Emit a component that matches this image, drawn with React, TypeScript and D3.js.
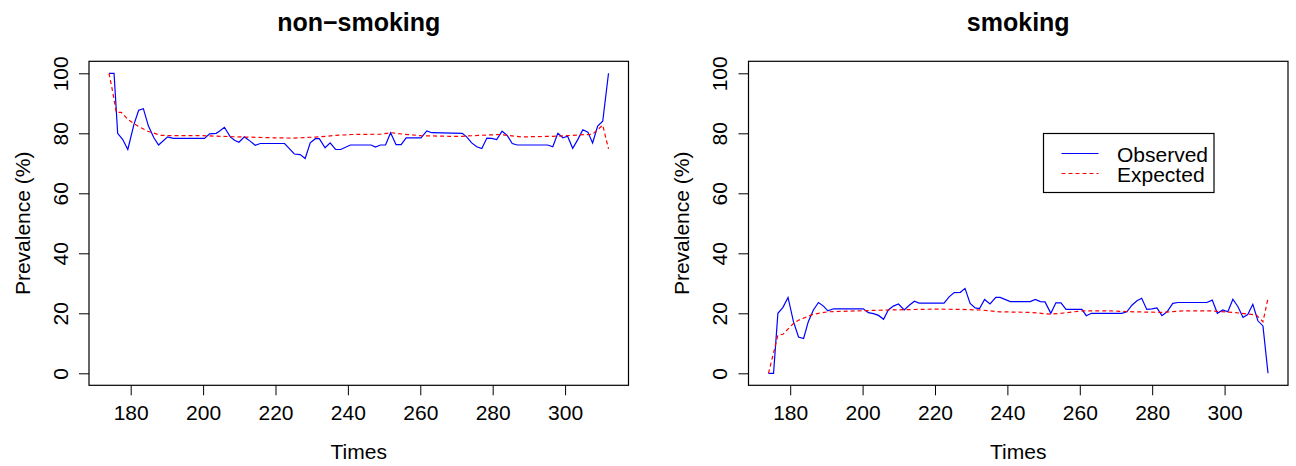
import { useEffect, useRef } from "react"
import * as d3 from "d3"

// [time, prevalence %] vertices
const nonSmokingObserved: [number, number][] = [
  [174, 100], [175.4, 100], [176.4, 80], [177.8, 77.9], [179.2, 74.6], [180.9, 83], [182.2, 87.7], [183.5, 88.2],
  [184.9, 82.4], [186.4, 78.5], [187.7, 76.1], [190.2, 78.8], [191.8, 78.3], [200.4, 78.3], [201.8, 79.8], [203.6, 80],
  [204.5, 80.7], [205.9, 82], [207.5, 78.8], [208.7, 77.7], [209.9, 77], [211.4, 78.8], [213, 77.4], [214.4, 76],
  [215.8, 76.6], [222.5, 76.6], [223.9, 74.8], [225.2, 73.1], [226.8, 72.9], [228.2, 71.6], [229.6, 76.8], [231, 78.2],
  [232.1, 78.2], [233.7, 75.2], [235.1, 76.8], [236.6, 74.6], [238, 74.6], [240.7, 76.1], [246.4, 76.1], [247.6, 75.4],
  [249, 76.1], [250.4, 76.1], [251.8, 80.2], [253.3, 76.2], [254.7, 76.2], [256.1, 78.5], [260.2, 78.5], [261.8, 80.8],
  [263.2, 80.2], [271.6, 80], [272.8, 78.8], [274.2, 76.8], [275.6, 75.5], [277, 74.9], [278.4, 78.4], [279.7, 78.3],
  [281.1, 77.9], [282.6, 80.7], [284, 79.3], [285.4, 76.6], [286.8, 76.1], [295.2, 76.1], [296.6, 75.5], [298, 80],
  [299.4, 78.5], [300.7, 79], [302.1, 75], [303.5, 77.9], [304.9, 81.2], [306.3, 80.4], [307.6, 76.8], [309, 82.4],
  [310.4, 84], [312, 100],
]

const nonSmokingExpected: [number, number][] = [
  [174, 100], [175, 94], [176, 87], [177.4, 87], [179.2, 84.6], [182, 82.4], [184.7, 80.7], [188.4, 79.3],
  [195, 79.2], [200, 79.2], [210, 78.8], [219.6, 78.5], [225, 78.4], [232, 78.8], [236.6, 79.3], [241, 79.6],
  [249, 79.7], [251.8, 80.2], [255.5, 79.7], [260.2, 79.2], [268, 79], [271.6, 79], [276, 79.3], [282, 79.6],
  [288, 78.8], [296.6, 79], [302, 79.3], [307.6, 79.7], [310.4, 82.7], [312, 74.8],
]

const smokingObserved: [number, number][] = [
  [174, 0], [175.4, 0], [176.6, 20], [178, 22], [179.4, 25.3], [180.9, 17.2], [182.3, 12.1], [183.7, 11.6],
  [185, 17.2], [186.4, 21.1], [187.8, 23.6], [189.2, 22.4], [190.4, 20.8], [192, 21.5], [200.2, 21.5], [201.6, 20.2],
  [203, 19.9], [204.4, 19.3], [205.8, 18], [207.1, 21.1], [208.5, 22.4], [209.9, 23.1], [211.5, 21.1], [212.9, 22.7],
  [214.3, 24], [215.6, 23.4], [222.5, 23.4], [223.9, 25.5], [225.3, 26.9], [227, 27], [228.3, 28.3], [229.7, 23.3],
  [231.1, 21.8], [232.3, 21.6], [233.7, 24.6], [235.2, 23.1], [236.8, 25.3], [238, 25.3], [240.8, 23.9], [246.3, 23.9],
  [247.7, 24.6], [249.1, 23.9], [250.4, 23.8], [252, 20], [253.4, 23.5], [254.8, 23.5], [256.2, 21.3], [260.6, 21.3],
  [261.8, 19.2], [263.2, 20], [271.6, 20], [273, 20.5], [274.4, 22.7], [275.8, 24.2], [277.1, 25], [278.5, 21.3],
  [279.9, 21.5], [281.3, 21.8], [282.7, 19.2], [284.1, 20.5], [285.7, 23.3], [287.1, 23.6], [295.1, 23.6], [296.6, 24.4],
  [298, 20], [299.5, 21.1], [300.9, 20.5], [302.3, 24.7], [303.7, 22.2], [305.1, 18.6], [306.4, 19.6], [307.8, 23],
  [309.2, 17.5], [310.6, 15.8], [312, 0],
]

const smokingExpected: [number, number][] = [
  [174, 0], [176.6, 12.7], [178, 13], [179.5, 14.9], [180.9, 16.6], [182.3, 17.7], [183.7, 18.4], [186.4, 19.7],
  [190.4, 20.5], [198, 20.8], [207, 21.1], [220, 21.4], [227, 21.3], [232.6, 21.1], [238, 20.5], [246.3, 20.3],
  [252, 19.7], [255.5, 20.1], [260.6, 20.8], [268.4, 20.8], [274.8, 20.5], [282.7, 20.3], [288.7, 20.8], [296.6, 20.8],
  [304, 20.1], [308.8, 19.4], [310.6, 17.2], [312, 25],
]

const xTicks = [180, 200, 220, 240, 260, 280, 300]
const yTicks = [0, 20, 40, 60, 80, 100]
const legendLabels = ["Observed", "Expected"]

const FONT = "'Liberation Sans', Arial, Helvetica, sans-serif"
const W = 1296, H = 466

const panels = [
  { title: "non\u2212smoking", obs: nonSmokingObserved, exp: nonSmokingExpected, left: 89, right: 628.5, legend: false },
  { title: "smoking", obs: smokingObserved, exp: smokingExpected, left: 748.5, right: 1288, legend: true },
]

export default function App() {
  const ref = useRef<SVGSVGElement>(null)

  useEffect(() => {
    document.body.style.margin = "0"
    const svg = d3.select(ref.current)
    svg.selectAll("*").remove()

    const top = 61.3, bottom = 385.3

    panels.forEach((p) => {
      // R style: 4% padding on each side of the data range
      const x = d3.scaleLinear().domain([168.48, 317.52]).range([p.left, p.right])
      const y = d3.scaleLinear().domain([-4, 104]).range([bottom, top])
      const g = svg.append("g")

      const line = d3.line<[number, number]>()
        .x((d) => x(d[0]))
        .y((d) => y(d[1]))

      g.append("path")
        .attr("d", line(p.obs))
        .attr("fill", "none")
        .attr("stroke", "#0000ff")
        .attr("stroke-width", 1.2)

      g.append("path")
        .attr("d", line(p.exp))
        .attr("fill", "none")
        .attr("stroke", "#ff0000")
        .attr("stroke-width", 1.2)
        .attr("stroke-dasharray", "4 3")

      const xAxis = d3.axisBottom(x).tickValues(xTicks).tickSize(10).tickFormat(d3.format("d"))
      g.append("g")
        .attr("transform", `translate(0, ${bottom})`)
        .call(xAxis)
        .call((a) => a.select(".domain").remove())
        .call((a) => a.selectAll("line").attr("stroke", "#000"))
        .selectAll("text")
        .attr("dy", null)
        .attr("y", 35)
        .style("font-family", FONT)
        .style("font-size", "21px")
        .attr("fill", "#000")

      const yAxis = d3.axisLeft(y).tickValues(yTicks).tickSize(10).tickFormat(d3.format("d"))
      g.append("g")
        .attr("transform", `translate(${p.left}, 0)`)
        .call(yAxis)
        .call((a) => a.select(".domain").remove())
        .call((a) => a.selectAll("line").attr("stroke", "#000"))
        .selectAll("text")
        .attr("x", null)
        .attr("dy", null)
        .attr("transform", "translate(-21.5, 0) rotate(-90)")
        .style("text-anchor", "middle")
        .style("font-family", FONT)
        .style("font-size", "21px")
        .attr("fill", "#000")

      // plot box
      g.append("rect")
        .attr("x", p.left)
        .attr("y", top)
        .attr("width", p.right - p.left)
        .attr("height", bottom - top)
        .attr("fill", "none")
        .attr("stroke", "#000")
        .attr("stroke-width", 1.2)

      const cx = (p.left + p.right) / 2
      g.append("text")
        .attr("x", cx)
        .attr("y", 31)
        .attr("text-anchor", "middle")
        .style("font-family", FONT)
        .style("font-size", "25px")
        .style("font-weight", "bold")
        .text(p.title)

      g.append("text")
        .attr("x", cx)
        .attr("y", 459)
        .attr("text-anchor", "middle")
        .style("font-family", FONT)
        .style("font-size", "21px")
        .text("Times")

      g.append("text")
        .attr("transform", `translate(${p.left - 59.5}, ${(top + bottom) / 2}) rotate(-90)`)
        .attr("text-anchor", "middle")
        .style("font-family", FONT)
        .style("font-size", "21px")
        .text("Prevalence (%)")

      if (p.legend) {
        const lx = 1043.5, ly = 133.5
        const lg = g.append("g").attr("transform", `translate(${lx}, ${ly})`)
        lg.append("rect")
          .attr("width", 170.5)
          .attr("height", 59)
          .attr("fill", "#fff")
          .attr("stroke", "#000")
          .attr("stroke-width", 1.2)
        legendLabels.forEach((label, i) => {
          const yy = 20 + i * 20
          lg.append("line")
            .attr("x1", 18)
            .attr("x2", 55)
            .attr("y1", yy)
            .attr("y2", yy)
            .attr("stroke", i === 0 ? "#0000ff" : "#ff0000")
            .attr("stroke-width", 1.2)
            .attr("stroke-dasharray", i === 0 ? null : "4 3")
          lg.append("text")
            .attr("x", 73.5)
            .attr("y", yy + 8)
            .style("font-family", FONT)
            .style("font-size", "21px")
            .text(label)
        })
      }
    })
  }, [])

  return <svg ref={ref} width={W} height={H} style={{ display: "block", background: "#fff" }} />
}
